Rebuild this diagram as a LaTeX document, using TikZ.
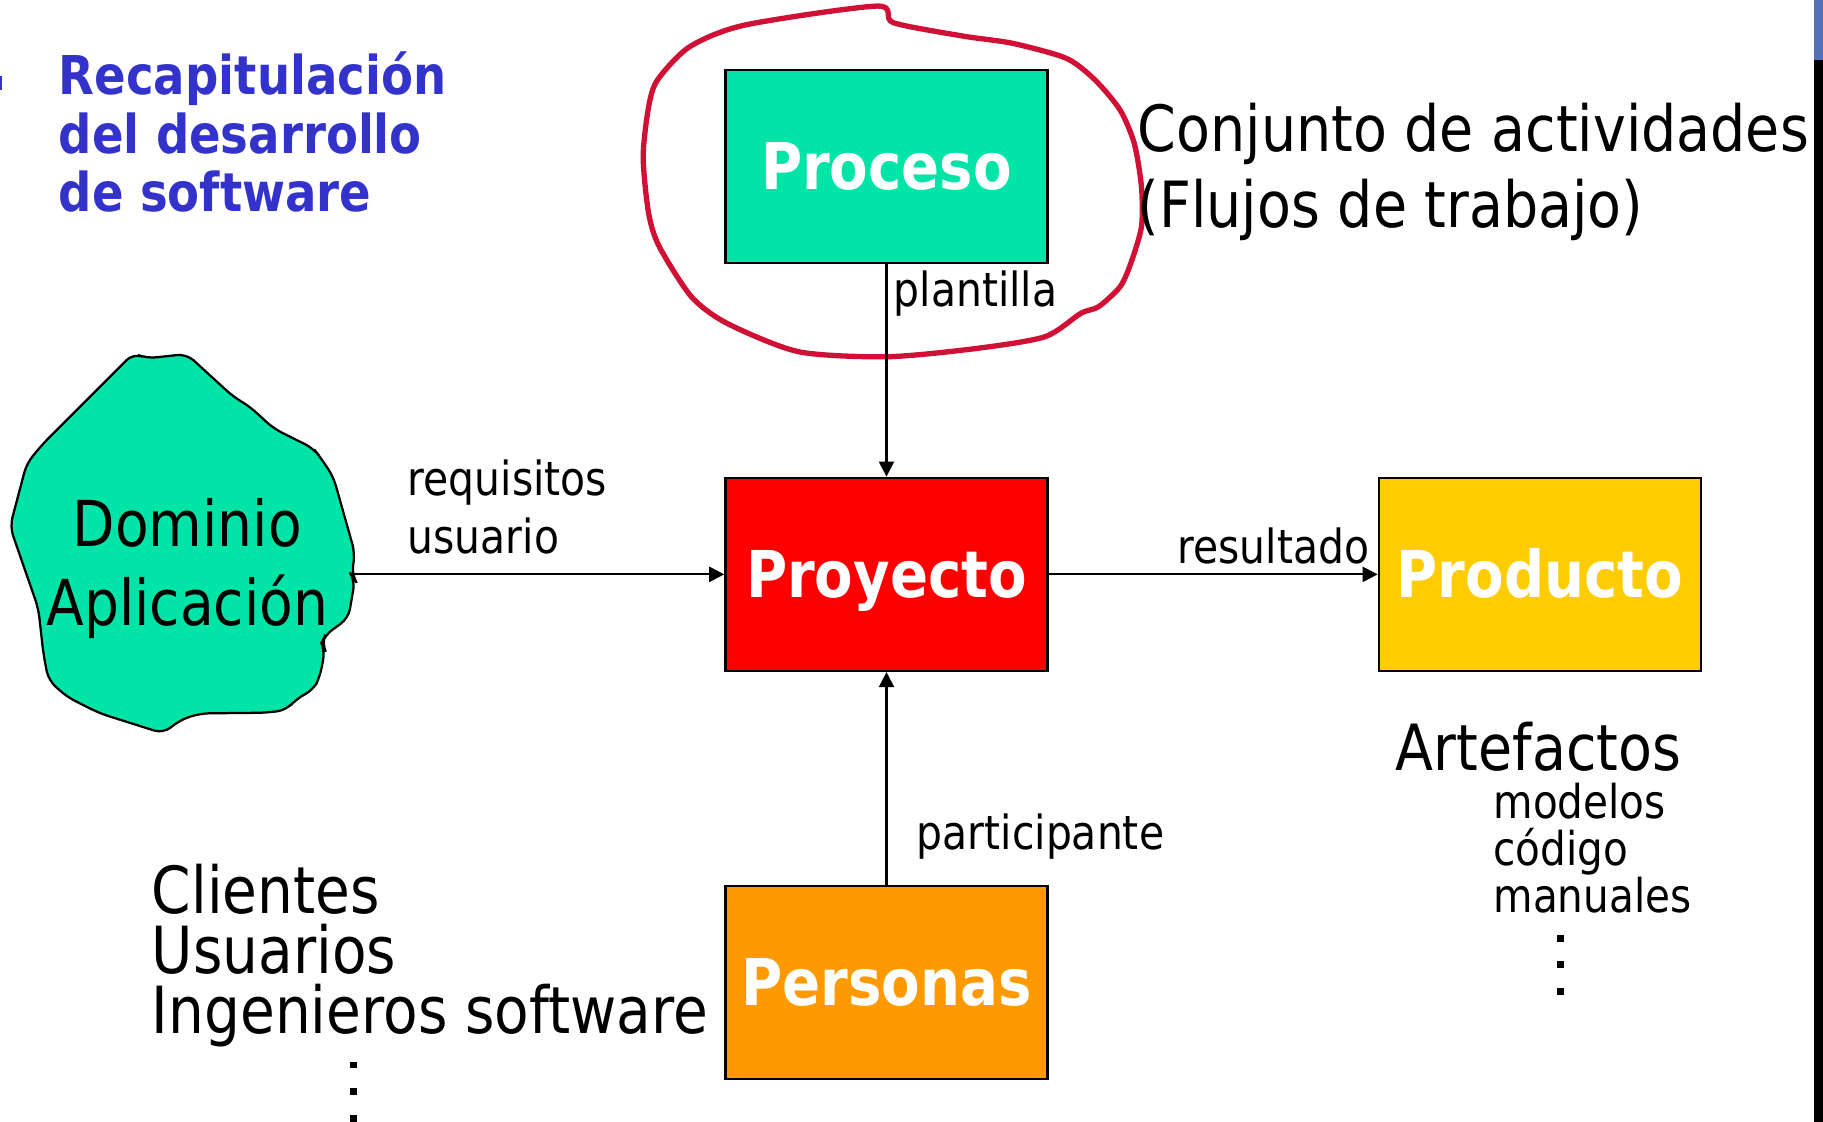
\documentclass[tikz,border=0pt]{standalone}
\usepackage{fontspec}
\setmainfont[FakeStretch=0.87]{DejaVu Sans}
\usepackage{xcolor}
\usetikzlibrary{arrows.meta}
\tikzset{>={Triangle[length=3.7pt,width=3.7pt]}}
\definecolor{procgreen}{RGB}{0,228,168}
\definecolor{proyred}{RGB}{255,0,0}
\definecolor{prodgold}{RGB}{255,204,0}
\definecolor{persorange}{RGB}{255,153,0}
\definecolor{titleblue}{RGB}{51,51,204}
\definecolor{ringred}{RGB}{208,16,52}
\definecolor{barblue}{RGB}{84,112,184}
\tikzset{box/.style = {shape=rectangle,draw,line width=0.6pt,minimum width=27.7mm,minimum height=16.6mm,inner sep=0pt,text height=11.5pt,text depth=0pt,text=white,font=\bfseries\fontsize{15.8pt}{19pt}\selectfont}}
\tikzset{lbl/.style = {inner sep=0pt,anchor=base west,align=left,font=\fontsize{11.5pt}{14.2pt}\selectfont}}
\tikzset{bigtxt/.style = {inner sep=0pt,anchor=base west,align=left,font=\fontsize{15.6pt}{18.6pt}\selectfont}}
\tikzset{arr/.style = {->,line width=0.55pt}}

\begin{document}
\begin{tikzpicture}[x=0.1mm,y=-0.1mm]
    \useasboundingbox (0,0) rectangle (1568,965);

    \fill[barblue] (1560.5,0) rectangle (1568,51.6);
    \fill[black] (1560.5,51.6) rectangle (1568,965);
    \fill[titleblue] (0,65) rectangle (1.5,77);

    \node[bigtxt,text=titleblue,font=\bfseries\fontsize{13.1pt}{14.2pt}\selectfont] (titulo) at (50,181.5) {Recapitulación\\del desarrollo\\de software};

    \node[box,fill=procgreen] (proceso) at (762.5,143) {Proceso};
    \node[box,fill=proyred] (proyecto) at (762.5,494) {Proyecto};
    \node[box,fill=prodgold] (producto) at (1324.5,494) {Producto};
    \node[box,fill=persorange] (personas) at (762.5,845) {Personas};

    \draw[fill=procgreen,line width=0.55pt,rounded corners=0.8mm] (114.7,303.9) -- (126.2,308.2) -- (160.6,304.5) -- (200.7,341.2) -- (215,349.8) -- (235.1,368.4) -- (269.5,385.6) -- (275.2,392.8) -- (286.7,410) -- (305.3,475.9) -- (302.5,494.6) -- (305.3,498.9) -- (299.6,531.8) -- (279.5,546.2) -- (276.7,553.3) -- (279.5,559.1) -- (275.2,582) -- (269.5,593.5) -- (255.2,600.7) -- (246.6,610.7) -- (229.4,613) -- (172,613.6) -- (154.8,619.3) -- (140.5,630.8) -- (86,613.6) -- (57.3,599.2) -- (41.6,584.9) -- (37.3,562) -- (33,523.3) -- (21.5,490.3) -- (8.6,453) -- (23,398.5) -- (37.3,381.3) -- cycle;
    \node[bigtxt,anchor=base,align=center,font=\fontsize{15.5pt}{19.2pt}\selectfont] (dominio) at (161,537.6) {Dominio\\Aplicación};
    \coordinate (domborde) at (304,494);

    \draw[ringred,line width=1.3pt] plot[smooth cycle,tension=0.45] coordinates {(754.5,5.2) (768.3,19.5) (828.2,31) (871.2,37.3) (917.3,50.2) (941.9,68.8) (963.4,94.6) (975.6,123.3) (981.8,160.6) (981.8,195) (972.6,226.5) (963.4,246.6) (944.9,263.8) (929.6,269.5) (898.8,289.6) (840.5,299.6) (763.7,306.8) (686.9,302.5) (625.4,278.1) (594.7,255.2) (567.1,212.2) (557.9,183.5) (553.2,134.8) (557.9,91.8) (565.5,68.8) (593.2,40.2) (640.8,21.5)};

    \draw[arr] (proceso) -- (proyecto);
    \draw[arr] (domborde) -- (proyecto);
    \draw[arr] (proyecto) -- (producto);
    \draw[arr] (personas) -- (proyecto);

    \node[lbl] (plantilla) at (768,264) {plantilla};
    \node[lbl] (requisitos) at (350,476) {requisitos\\usuario};
    \node[lbl] (resultado) at (1012,485) {resultado};
    \node[lbl] (participante) at (788,731) {participante};

    \node[bigtxt] (conjunto) at (978,196) {Conjunto de actividades\\(Flujos de trabajo)};
    \node[bigtxt,font=\fontsize{15.9pt}{14.65pt}\selectfont] (gente) at (130,889) {Clientes\\Usuarios\\Ingenieros software};
    \node[bigtxt] (artefactos) at (1200,663) {Artefactos};
    \node[lbl,font=\fontsize{11.4pt}{11.5pt}\selectfont] (artlista) at (1284,784.5) {modelos\\código\\manuales};

    \foreach \y in {916,939,962} \fill (300.7,\y-3) rectangle +(6,6);
    \foreach \y in {806.8,829.2,853} \fill (1338.8,\y-3) rectangle +(6,6);
\end{tikzpicture}
\end{document}
